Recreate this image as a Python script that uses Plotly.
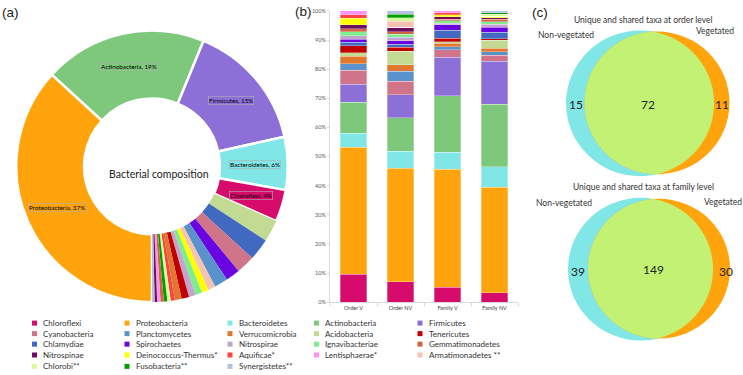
import numpy as np
import plotly.graph_objects as go

W, H = 743, 375

# ---------------- data ----------------
phyla = ["Chloroflexi", "Proteobacteria", "Bacteroidetes", "Actinobacteria", "Firmicutes",
         "Cyanobacteria", "Planctomycetes", "Verrucomicrobia", "Acidobacteria", "Tenericutes",
         "Chlamydiae", "Spirochaetes", "Nitrospirae", "Ignavibacteriae", "Gemmatimonadetes",
         "Nitrospinae", "Deinococcus-Thermus*", "Aquificae*", "Lentisphaerae*", "Armatimonadetes **",
         "Chlorobi**", "Fusobacteria**", "Synergistetes**"]
phyla_colors = ["#D60B6C", "#FFA40C", "#80E6E6", "#7DC87A", "#8C6FD7",
                "#D0748A", "#5A93CC", "#E0782F", "#C2DA92", "#C00000",
                "#4169BF", "#6A04E0", "#C4A4CC", "#7DEE8F", "#D0683F",
                "#6E0F5E", "#FFFF00", "#FF4242", "#FF92F2", "#F6C2B2",
                "#D6FF9C", "#009E00", "#B5C1E4"]

samples = ["Order V", "Order NV", "Family V", "Family NV"]
order_v = [9.6, 43.5, 4.8, 10.8, 6.1, 4.8, 2.3, 2.5, 1.2, 2.5, 1.1, 1.1, 1.1, 1.4, 1.1, 1.3, 2.2, 1.3, 1.3, 0, 0, 0, 0]
order_nv = [7.0, 39.0, 5.8, 11.5, 7.9, 4.7, 3.4, 2.2, 4.6, 1.4, 1.1, 1.2, 1.1, 1.1, 0.9, 1.4, 0, 0, 0, 2.2, 1.1, 1.2, 1.2]
family_v = [5.1, 40.5, 5.9, 19.4, 13.2, 2.5, 1.1, 1.2, 0.5, 1.2, 2.7, 1.9, 0.6, 0.8, 0.6, 0.7, 0.8, 0.7, 0.6, 0, 0, 0, 0]
family_nv = [3.3, 36.1, 7.0, 21.6, 14.7, 2.0, 1.3, 1.2, 2.8, 0.5, 2.1, 1.7, 1.1, 0.9, 0.8, 0.5, 0.6, 0, 0, 0, 0.6, 0.6, 0.6]

donut_phyla = ["Proteobacteria", "Actinobacteria", "Firmicutes", "Bacteroidetes", "Chloroflexi",
               "Acidobacteria", "Chlamydiae", "Cyanobacteria", "Spirochaetes", "Planctomycetes",
               "Armatimonadetes **", "Deinococcus-Thermus*", "Ignavibacteriae", "Nitrospirae", "Tenericutes",
               "Verrucomicrobia", "Aquificae*", "Chlorobi**", "Fusobacteria**", "Gemmatimonadetes",
               "Lentisphaerae*", "Nitrospinae", "Synergistetes**"]
donut_pct = [36.8, 19.4, 15.3, 6.3, 3.8, 2.6, 2.6, 2.2, 1.7, 1.6, 0.9, 0.8, 0.8, 0.8, 0.9, 0.8,
             0.5, 0.4, 0.4, 0.4, 0.4, 0.3, 0.3]
n_labeled = 5

venn_titles = ["Unique and shared taxa at order level", "Unique and shared taxa at family level"]
venn_sets = ["Non-vegetated", "Vegetated"]
order_counts = [15, 72, 11]     # non-veg only, shared, veg only
family_counts = [39, 149, 30]

# ---------------- layout constants (pixels) ----------------
CYAN, ORANGE, LIME = "#80E6E6", "#FFA40C", "#C3F174"
pie_cx, pie_cy, pie_r = 152, 166, 138
bar_x0, bar_x1, bar_y0, bar_y1 = 330, 518, 304, 8
legend_cols = [34.5, 127, 230, 316.5, 420]
legend_rows = [325.3, 336, 346.7, 357.7, 369.3]
venn_geo = [dict(c1=(640, 102, 74), c2=(657, 101.5, 72.5), title_y=17,
                 lab1=(566, 33), lab2=(715, 28), nums=[(576, 103), (648, 103), (722, 103)]),
            dict(c1=(640.5, 270.5, 72.5), c2=(659, 270, 71), title_y=187,
                 lab1=(564, 203), lab2=(723, 202), nums=[(578, 273), (653, 271), (726, 273)])]

color_of = dict(zip(phyla, phyla_colors))

fig = go.Figure()

# ---------------- (b) stacked bars ----------------
for i, name in enumerate(phyla):
    fig.add_trace(go.Bar(
        x=samples, y=[order_v[i], order_nv[i], family_v[i], family_nv[i]],
        name=name, marker=dict(color=phyla_colors[i], line=dict(color="white", width=0.3)),
        showlegend=False, xaxis="x", yaxis="y"))

# ---------------- (a) donut ----------------
fig.add_trace(go.Pie(
    labels=donut_phyla, values=donut_pct, hole=0.5, sort=False, direction="clockwise",
    rotation=180, textinfo="none", showlegend=False,
    marker=dict(colors=[color_of[n] for n in donut_phyla],
                line=dict(color="white", width=[2.5] * n_labeled + [0] * (len(donut_phyla) - n_labeled))),
    domain=dict(x=[(pie_cx - pie_r) / W, (pie_cx + pie_r) / W],
                y=[1 - (pie_cy + pie_r) / H, 1 - (pie_cy - pie_r) / H])))

annotations = []
total = sum(donut_pct)
cum = 0.0
r_mid = pie_r * 0.75
for name, v in zip(donut_phyla, donut_pct):
    mid = cum + v / 2
    cum += v
    if donut_phyla.index(name) >= n_labeled:
        continue
    th = np.deg2rad(180 + 360 * mid / total)
    px = pie_cx + r_mid * np.sin(th)
    py = pie_cy - r_mid * np.cos(th)
    annotations.append(dict(x=px, y=py, xref="x2", yref="y2", showarrow=False,
                            text=f"{name}, {round(v)}%", font=dict(size=6.3, color="black"),
                            bordercolor="#B0B0B0", borderwidth=0.6, borderpad=0.5))
annotations.append(dict(x=159, y=174, xref="x2", yref="y2", showarrow=False,
                        text="Bacterial composition", font=dict(size=10.5, color="#222222")))

# ---------------- legend (grid) ----------------
lx = [legend_cols[i % 5] for i in range(len(phyla))]
ly = [legend_rows[i // 5] for i in range(len(phyla))]
fig.add_trace(go.Scatter(x=lx, y=ly, mode="markers", xaxis="x2", yaxis="y2",
                         marker=dict(symbol="square", size=5, color=phyla_colors),
                         showlegend=False, hoverinfo="skip"))
for x, y, name in zip(lx, ly, phyla):
    annotations.append(dict(x=x + 6.5, y=y, xref="x2", yref="y2", xanchor="left", showarrow=False,
                            text=name, font=dict(size=8, color="#333333")))

# ---------------- (c) Venn diagrams ----------------
shapes = []
def circle_pts(cx, cy, r, n=720):
    t = np.linspace(0, 2 * np.pi, n, endpoint=False)
    return np.c_[cx + r * np.cos(t), cy + r * np.sin(t)]

for geo, title, counts in zip(venn_geo, venn_titles, [order_counts, family_counts]):
    (x1, y1, r1), (x2, y2, r2) = geo["c1"], geo["c2"]
    shapes.append(dict(type="circle", xref="x2", yref="y2", x0=x1 - r1, x1=x1 + r1, y0=y1 - r1, y1=y1 + r1,
                       fillcolor=CYAN, line=dict(width=0), layer="below"))
    shapes.append(dict(type="circle", xref="x2", yref="y2", x0=x2 - r2, x1=x2 + r2, y0=y2 - r2, y1=y2 + r2,
                       fillcolor=ORANGE, line=dict(width=0), layer="below"))
    pa, pb = circle_pts(x1, y1, r1), circle_pts(x2, y2, r2)
    ina = pa[np.hypot(pa[:, 0] - x2, pa[:, 1] - y2) <= r2]
    inb = pb[np.hypot(pb[:, 0] - x1, pb[:, 1] - y1) <= r1]
    lens = np.vstack([ina, inb])
    c = lens.mean(axis=0)
    lens = lens[np.argsort(np.arctan2(lens[:, 1] - c[1], lens[:, 0] - c[0]))]
    path = "M " + " L ".join(f"{p[0]:.2f},{p[1]:.2f}" for p in lens) + " Z"
    shapes.append(dict(type="path", xref="x2", yref="y2", path=path, fillcolor=LIME,
                       line=dict(width=0), layer="below"))
    annotations.append(dict(x=643, y=geo["title_y"], xref="x2", yref="y2", showarrow=False,
                            text=title, font=dict(size=8.5, color="#333333")))
    annotations.append(dict(x=geo["lab1"][0], y=geo["lab1"][1], xref="x2", yref="y2", showarrow=False,
                            text=venn_sets[0], font=dict(size=8.5, color="#333333")))
    annotations.append(dict(x=geo["lab2"][0], y=geo["lab2"][1], xref="x2", yref="y2", showarrow=False,
                            text=venn_sets[1], font=dict(size=8.5, color="#333333")))
    for (nx, ny), cnt in zip(geo["nums"], counts):
        annotations.append(dict(x=nx, y=ny, xref="x2", yref="y2", showarrow=False,
                                text=str(cnt), font=dict(size=12, color="#222222")))

# panel letters
for txt, x, y in [("(a)", 10, 10), ("(b)", 303, 9), ("(c)", 540, 10)]:
    annotations.append(dict(x=x, y=y, xref="x2", yref="y2", showarrow=False, text=txt,
                            font=dict(size=13.5, family="Liberation Sans", color="#222222")))

fig.update_layout(
    width=W, height=H, margin=dict(l=0, r=0, t=0, b=0),
    paper_bgcolor="white", plot_bgcolor="rgba(0,0,0,0)",
    barmode="stack", bargap=0.43, hovermode=False,
    font=dict(family="Lato", color="black"),
    xaxis=dict(domain=[bar_x0 / W, bar_x1 / W], anchor="y", type="category",
               showline=True, linecolor="#D9D9D9", linewidth=1, ticks="outside", tickson="boundaries",
               ticklen=3, tickcolor="#D9D9D9", showgrid=False, zeroline=False,
               tickfont=dict(size=5.5, color="#404040")),
    yaxis=dict(domain=[1 - bar_y0 / H, 1 - bar_y1 / H], anchor="x", range=[0, 100], dtick=10,
               ticksuffix="%", showline=True, linecolor="#D9D9D9", linewidth=1, ticks="outside",
               ticklen=2, tickcolor="#D9D9D9", showgrid=False, zeroline=False,
               tickfont=dict(size=5.5, color="#595959")),
    xaxis2=dict(domain=[0, 1], range=[0, W], anchor="y2", visible=False, fixedrange=True),
    yaxis2=dict(domain=[0, 1], range=[H, 0], anchor="x2", visible=False, fixedrange=True),
    shapes=shapes, annotations=annotations,
)

fig.write_html("out.html", config={"displayModeBar": False, "staticPlot": True},
               post_script="document.body.style.margin='0';document.body.style.overflow='hidden';")
